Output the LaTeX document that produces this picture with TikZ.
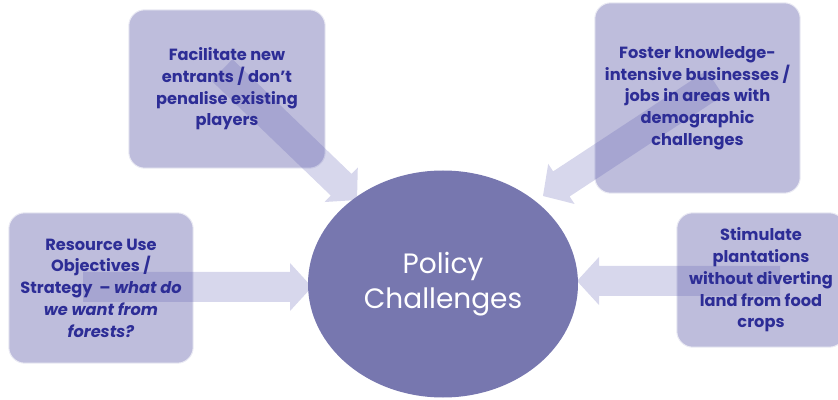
\documentclass[tikz,border=0pt]{standalone}
\usepackage{fontspec}
\setmainfont{Poppins}
\usetikzlibrary{calc,shapes.geometric}
\pgfdeclarelayer{bg}
\pgfdeclarelayer{mid}
\pgfsetlayers{bg,mid,main}
\definecolor{boxfill}{HTML}{BEBDDC}
\definecolor{ellfill}{HTML}{7777AF}
\definecolor{txtblue}{HTML}{2D2D96}
\definecolor{arrcol}{HTML}{6363B4}
\newcommand\blockarr[3]{%
  \coordinate (#1h) at ($(#3)!22pt!(#2)$);
  \fill[arrowfill] ($(#2)!15pt!90:(#3)$) -- ($(#1h)!15pt!90:(#3)$)
    -- ($(#1h)!24pt!90:(#3)$) -- (#3) -- ($(#1h)!24pt!-90:(#3)$)
    -- ($(#1h)!15pt!-90:(#3)$) -- ($(#2)!15pt!-90:(#3)$) -- cycle;}
\begin{document}
\begin{tikzpicture}[x=1pt,y=1pt,
  box/.style={inner sep=0pt, align=center, text=txtblue,
    font=\bfseries\fontsize{16.2}{21.7}\selectfont},
  boxbg/.style={fill=boxfill, draw=white!70!boxfill, line width=1pt, rounded corners=16pt},
  arrowfill/.style={fill=arrcol, fill opacity=0.26},
  ell/.style={ellipse, fill=ellfill, text=white, align=center,
    minimum width=270pt, minimum height=227pt, inner sep=0pt,
    font=\fontsize{28}{35}\selectfont}]
\useasboundingbox (0,0) rectangle (838,399);
\clip (0,0) rectangle (838,399);
% boxes (text on main layer, shape on background layer)
\node[box, minimum width=196pt, minimum height=158pt] (b1) at (227,310)
  {Facilitate new\\entrants / don’t\\penalise existing\\players};
\node[box, minimum width=205pt, minimum height=190pt] (b2) at (697.5,301)
  {Foster knowledge-\\intensive businesses /\\jobs in areas with\\demographic\\challenges};
\node[box, minimum width=184pt, minimum height=150pt] (b3) at (101,111)
  {Resource Use\\Objectives /\\Strategy \ – \textit{what do}\\\textit{we want from}\\\textit{forests?}};
\node[box, minimum width=168pt, minimum height=134pt] (b4) at (761,119)
  {Stimulate\\plantations\\without diverting\\land from food\\crops};
\begin{pgfonlayer}{bg}
  \foreach \b in {b1,b2,b3,b4}
    \path[boxbg] (\b.south west) rectangle (\b.north east);
\end{pgfonlayer}
% centre
\node[ell] (pc) at (443,115) {Policy\\Challenges};
% arrows
\coordinate (s1) at (222,329); \coordinate (t1) at (357,199);
\coordinate (s2) at (715,316); \coordinate (t2) at (543,203);
\coordinate (s3) at (83,112);  \coordinate (t3) at (312,112);
\coordinate (s4) at (780,118); \coordinate (t4) at (577,118);
\begin{pgfonlayer}{mid}
  \blockarr{a1}{s1}{t1}
  \blockarr{a2}{s2}{t2}
  \blockarr{a3}{s3}{t3}
  \blockarr{a4}{s4}{t4}
\end{pgfonlayer}
\end{tikzpicture}
\end{document}
